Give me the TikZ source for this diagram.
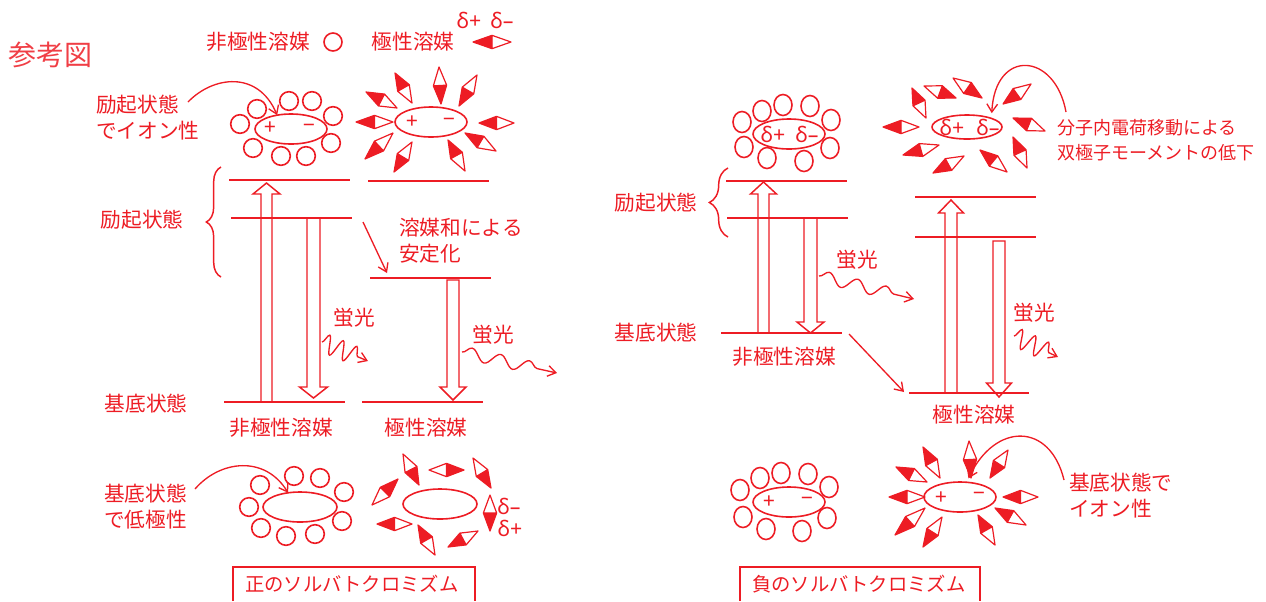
\documentclass[tikz,border=0pt]{standalone}
\usepackage{fontspec}
\setmainfont{Noto Sans CJK JP}
\newfontfamily\grk{Noto Sans}
\usetikzlibrary{calc,arrows.meta,shapes.geometric,decorations.pathreplacing,decorations.pathmorphing}
\definecolor{sred}{RGB}{237,28,36}

% solvent dipole: filled half at the delta+ end #1, open half at the delta- end #2
\newcommand{\dipole}[2]{%
  \coordinate (dF) at (#1);
  \coordinate (dW) at (#2);
  \coordinate (dM) at ($(dF)!0.5!(dW)$);
  \coordinate (dA) at ($(dM)!5pt!90:(dW)$);
  \coordinate (dB) at ($(dM)!5pt!-90:(dW)$);
  \fill[sred] (dF) -- (dA) -- (dB) -- cycle;
  \draw[sred, line width=0.9pt, line join=round] (dF) -- (dA) -- (dW) -- (dB) -- cycle (dA) -- (dB);
}
% open transition arrow: x, tail y, head base y, tip y, shaft half width, head half width
\newcommand{\hollowarrow}[6]{%
  \draw[ink] (#1-#5,#2) -- (#1-#5,#3) -- (#1-#6,#3) -- (#1,#4) -- (#1+#6,#3)
    -- (#1+#5,#3) -- (#1+#5,#2) -- cycle;
}

\begin{document}
\begin{tikzpicture}[%
      x=0.75pt, y=-0.75pt,
      ink/.style={draw=sred, line width=1.1pt, line join=miter},
      level/.style={draw=sred, line width=1.4pt},
      solv/.style={draw=sred, line width=1.2pt},
      lbl/.style={text=sred, inner sep=0pt, font=\fontsize{15.5}{19.5}\selectfont},
      multi/.style={lbl, align=left, anchor=west},
      greek/.style={text=sred, inner sep=0pt, font=\grk\fontsize{16}{18}\selectfont},
      solute/.style={ellipse, draw=sred, line width=1.2pt, minimum width=54pt,
        minimum height=22.5pt, inner sep=0pt, outer sep=0pt},
      callout/.style={draw=sred, line width=1pt, -{Straight Barb[length=6pt,width=8pt]}},
      glow/.style={draw=sred, line width=1pt, decorate, -{Straight Barb[length=6pt,width=8pt]}},
      brc/.style={draw=sred, line width=1.1pt, decorate},
      ]
      \useasboundingbox (0,0) rectangle (1266,601);

      \node[lbl, text=sred!85, font=\fontsize{21}{24}\selectfont] (title) at (50,55) {参考図};

      % legend
      \node[lbl] (legnp) at (258,42) {非極性溶媒};
      \draw[solv] (333,42) circle[radius=9];
      \node[lbl] (legp) at (413,42) {極性溶媒};
      \dipole{473,42}{511,42}
      \node[greek] (legdp) at (469,20) {δ+};
      \node[greek] (legdm) at (502,20) {δ–};

      % ---- positive solvatochromism ----
      \node[solute] (lenp) at (291,129) {};
      \node[greek] at (270,128) {+};
      \node[greek] at (309,128) {−};
      \foreach \p in {(240,124),(257,109),(289,101),(312,101),(333,116),(331,143),(306,156),(281,156),(253,148)}
        \draw[solv] \p circle[radius=9.3];
      \node[multi] (lblion) at (96,118) {励起状態\\でイオン性};
      \coordinate (c1) at (188,102);
      \draw[callout] (c1) .. controls (213,76) and (258,70) .. (lenp.135);

      \node[solute] (lep) at (431,122) {};
      \node[greek] at (412,122) {+};
      \node[greek] at (449,122) {−};
      \foreach \fx/\fy/\wx/\wy in {356/122/393/122, 395/73/412/103, 366/92/397/108,
          441/104/439/67, 459/106/477/75, 479/123/514/123, 465/133/496/151,
          448/140/465/171, 394/172/412/142, 365/159/393/133}
        {\dipole{\fx,\fy}{\wx,\wy}}

      \draw[level] (229,180) -- (350,180);
      \draw[level] (231,218) -- (352,218);
      \draw[level] (224,402) -- (345,402);
      \draw[level] (368,181) -- (489,181);
      \draw[level] (370,278) -- (491,278);
      \draw[level] (362,402) -- (483,402);
      \hollowarrow{266.5}{402}{194}{183}{5.5}{13.5}
      \hollowarrow{313.5}{218}{387}{398}{6.5}{14}
      \hollowarrow{453}{280}{387}{400}{6}{13}

      \draw[brc, decoration={brace, amplitude=11pt}] (221,277) -- (221,167);
      \node[lbl] (lexc) at (142,220) {励起状態};
      \node[lbl] (lgnd) at (146,404) {基底状態};
      \node[multi] (lstab) at (399,241) {溶媒和による\\安定化};
      \coordinate (s1) at (363,222);
      \coordinate (s2) at (387,273);
      \draw[callout] (s1) -- (s2);

      \node[lbl] (fl1) at (354,318) {蛍光};
      \node[lbl] (fl2) at (493,335) {蛍光};
      \coordinate (w1a) at (322,342); \coordinate (w1b) at (368,361);
      \coordinate (w2a) at (462,352); \coordinate (w2b) at (557,373);
      \draw[glow, decoration={snake, amplitude=7pt, segment length=11pt, post length=5pt}] (w1a) -- (w1b);
      \draw[glow, decoration={snake, amplitude=4.5pt, segment length=22pt, post length=6pt}] (w2a) -- (w2b);
      \node[lbl] (lnp) at (281,428) {非極性溶媒};
      \node[lbl] (lp) at (426,428) {極性溶媒};

      \node[solute, minimum width=55.5pt] (lgnp) at (300,507) {};
      \foreach \p in {(260,485),(294,476),(320,478),(344,492),(342,521),(315,534),(286,536),(261,528),(249,507)}
        \draw[solv] \p circle[radius=9.3];
      \node[multi] (lbllow) at (104,507) {基底状態\\で低極性};
      \coordinate (c2) at (195,489);
      \draw[callout] (c2) .. controls (220,460) and (265,455) .. (lgnp.130);

      \node[solute, minimum width=55.5pt] (lgp) at (440,504) {};
      \foreach \fx/\fy/\wx/\wy in {419/485/403/454, 464/470/429/470, 491/488/473/458,
          398/479/372/505, 490/531/490/495, 377/524/412/524, 418/525/435/555, 448/547/478/531}
        {\dipole{\fx,\fy}{\wx,\wy}}
      \node[greek] (gdm) at (509,506) {δ–};
      \node[greek] (gdp) at (510,528) {δ+};

      \draw[ink] (233,601) |- (475,567) -- (475,601);
      \node[lbl, anchor=west, font=\fontsize{14.5}{17}\selectfont] (pos) at (245,584) {正のソルバトクロミズム};

      % ---- negative solvatochromism ----
      \node[solute] (renp) at (789,134) {};
      \node[greek] at (773,134) {δ+};
      \node[greek] at (807,134) {δ–};
      \foreach \p in {(742,122),(762,111),(783,105),(810,106),(831,120),(830,148),(804,161),(767,158),(744,147)}
        \draw[solv] \p ellipse[x radius=9, y radius=10.5];

      \node[solute, minimum width=52.5pt, minimum height=18pt] (rep) at (967,127) {};
      \node[greek] at (952,127) {δ+};
      \node[greek] at (988,127) {δ–};
      \foreach \fx/\fy/\wx/\wy in {883/127/919/127, 912/88/926/118, 956/98/924/86,
          982/98/953/78, 1003/104/1031/84, 1013/118/1045/131, 1013/137/1027/168,
          980/150/1007/172, 933/173/964/156, 903/155/939/145}
        {\dipole{\fx,\fy}{\wx,\wy}}
      \node[multi, font=\fontsize{13.5}{19}\selectfont] (lblct) at (1057,140.5) {分子内電荷移動による\\双極子モーメントの低下};
      \coordinate (c3) at (1066,112);
      \draw[callout] (c3) .. controls (1055,52) and (995,48) .. ([yshift=4pt]rep.north east);

      \draw[level] (726,181) -- (847,181);
      \draw[level] (727,218) -- (848,218);
      \draw[level] (721,333) -- (842,333);
      \draw[level] (915,197) -- (1036,197);
      \draw[level] (915,237) -- (1036,237);
      \draw[level] (909,393) -- (1029,393);
      \hollowarrow{763.5}{333}{194}{182}{5.5}{13}
      \hollowarrow{810.5}{218}{322}{333}{6.5}{13.5}
      \hollowarrow{951}{393}{213}{200}{6}{12.5}
      \hollowarrow{999}{241}{383}{397}{6}{12.5}

      \draw[brc, decoration={brace, amplitude=14pt}] (728,237) -- (728,168);
      \node[lbl] (rexc) at (656,203) {励起状態};
      \node[lbl] (rgnd) at (656,333) {基底状態};
      \coordinate (s3) at (849,334);
      \coordinate (s4) at (904,392);
      \draw[callout] (s3) -- (s4);

      \node[lbl] (fl3) at (857,260) {蛍光};
      \node[lbl] (fl4) at (1034,313) {蛍光};
      \coordinate (w3a) at (819,276); \coordinate (w3b) at (914,299);
      \coordinate (w4a) at (1014,336); \coordinate (w4b) at (1058,357);
      \draw[glow, decoration={snake, amplitude=4.5pt, segment length=22pt, post length=6pt}] (w3a) -- (w3b);
      \draw[glow, decoration={snake, amplitude=7pt, segment length=11pt, post length=5pt}] (w4a) -- (w4b);
      \node[lbl] (rnp) at (784,357) {非極性溶媒};
      \node[lbl] (rp) at (974,415) {極性溶媒};

      \node[solute] (rgnp) at (789,502) {};
      \node[greek] at (769,502) {+};
      \node[greek] at (807,501) {−};
      \foreach \p in {(740,490),(760,478),(781,473),(808,474),(829,487),(827,518),(802,531),(766,529),(743,517)}
        \draw[solv] \p ellipse[x radius=9, y radius=10.5];

      \node[solute] (rgp) at (960,497) {};
      \node[greek] at (941,498) {+};
      \node[greek] at (979,496) {−};
      \foreach \fx/\fy/\wx/\wy in {889/497/925/497, 923/447/940/478, 896/467/927/482,
          971/478/969/441, 990/478/1008/450, 1003/497/1038/497, 995/508/1026/525,
          978/515/995/545, 923/547/942/517, 895/535/925/508}
        {\dipole{\fx,\fy}{\wx,\wy}}
      \node[multi] (lblgi) at (1069,496) {基底状態で\\イオン性};
      \coordinate (c4) at (1064,480);
      \draw[callout] (c4) .. controls (1050,422) and (995,422) .. ([yshift=3pt]rgp.60);

      \draw[ink] (740,601) |- (980,567) -- (980,601);
      \node[lbl, anchor=west, font=\fontsize{14.5}{17}\selectfont] (neg) at (752,584) {負のソルバトクロミズム};
      \end{tikzpicture}
\end{document}
